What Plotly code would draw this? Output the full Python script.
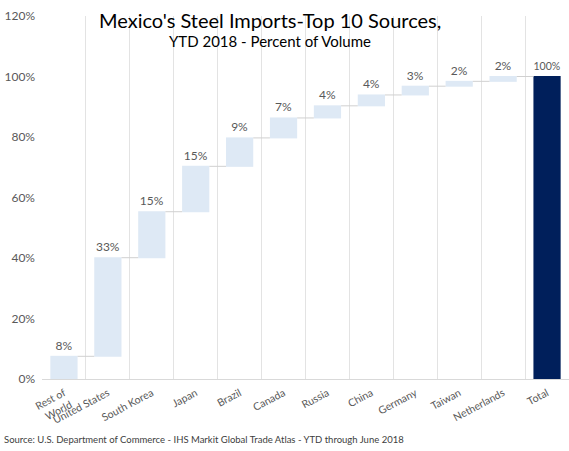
import plotly.graph_objects as go

countries = ["Rest of<br>World", "United States", "South Korea", "Japan", "Brazil",
             "Canada", "Russia", "China", "Germany", "Taiwan", "Netherlands", "Total"]
shares = [7.5, 32.6, 15.2, 15.0, 9.4, 6.6, 4.0, 3.6, 2.9, 1.6, 1.6]
y_ticks = [0, 20, 40, 60, 80, 100, 120]

total = sum(shares)
labels = [f"{v:.0f}%" for v in shares] + [f"{total:.0f}%"]

FONT = "Lato, 'Open Sans', sans-serif"
GRAY = "#595959"

fig = go.Figure()
fig.add_trace(go.Waterfall(
    x=countries,
    y=shares + [0],
    measure=["relative"] * len(shares) + ["total"],
    text=labels,
    textposition="outside",
    textfont=dict(family=FONT, size=12, color=GRAY),
    increasing=dict(marker=dict(color="#DEE9F5")),
    totals=dict(marker=dict(color="#001F5B")),
    connector=dict(mode="between", line=dict(color="#D0D0D0", width=1)),
    cliponaxis=False,
    hoverinfo="skip",
))

fig.add_annotation(text="Mexico's Steel Imports-Top 10 Sources,",
                   x=0.433, y=0.99, xref="paper", yref="paper",
                   xanchor="center", yanchor="middle", showarrow=False,
                   font=dict(family=FONT, size=20, color="#000000"))
fig.add_annotation(text="YTD 2018 - Percent of Volume",
                   x=0.433, y=0.931, xref="paper", yref="paper",
                   xanchor="center", yanchor="middle", showarrow=False,
                   font=dict(family=FONT, size=15, color="#000000"))
fig.add_annotation(text="Source: U.S. Department of Commerce - IHS Markit Global Trade Atlas - YTD through June 2018",
                   x=-0.076, y=-0.168, xref="paper", yref="paper",
                   xanchor="left", yanchor="middle", showarrow=False,
                   font=dict(family=FONT, size=9.5, color="#404040"))

fig.update_layout(
    width=569, height=451,
    margin=dict(l=42, r=0, t=16, b=72),
    plot_bgcolor="white", paper_bgcolor="white",
    showlegend=False,
    waterfallgap=0.38,
    font=dict(family=FONT, color=GRAY),
    xaxis=dict(tickson="boundaries", showgrid=True, gridcolor="#E3E3E3", gridwidth=1,
               showline=True, linecolor="#D9D9D9", ticks="", tickangle=-28,
               ticklabelstandoff=3,
               tickfont=dict(family=FONT, size=10.5, color=GRAY)),
    yaxis=dict(range=[0, 120], tickvals=y_ticks, ticktext=[f"{t}%" for t in y_ticks],
               showgrid=False, zeroline=False, showline=False, ticks="",
               ticklabelstandoff=6,
               tickfont=dict(family=FONT, size=12, color=GRAY)),
)

# drop the page's default body margin so the figure sits at the window corner
fig.write_html("out.html", config={"displayModeBar": False},
               post_script="document.body.style.margin='0';document.body.style.overflow='hidden';")
